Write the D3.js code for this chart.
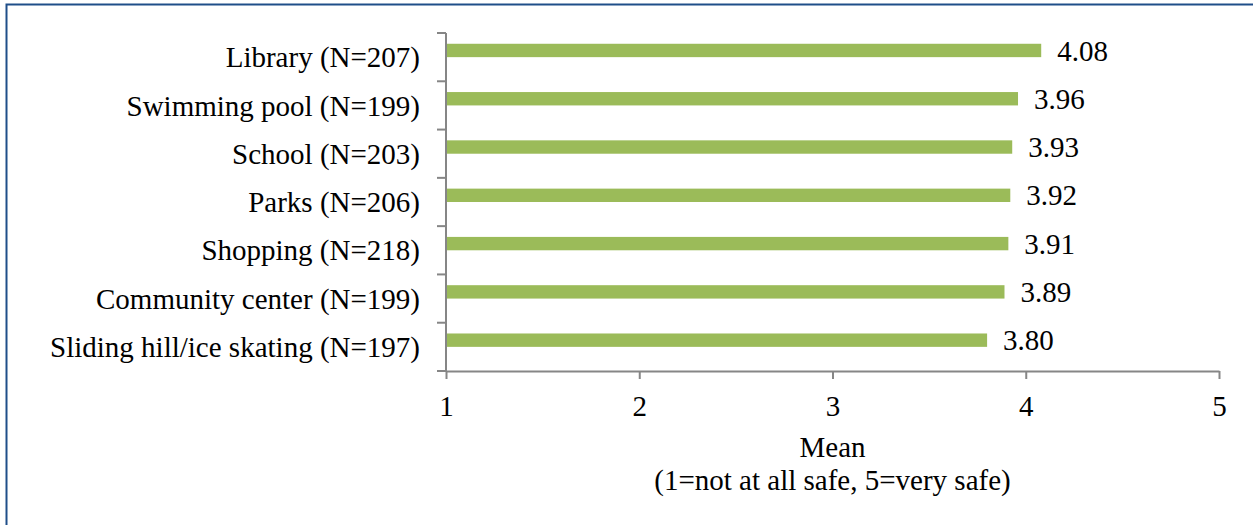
<!DOCTYPE html>
<html>
<head>
<meta charset="utf-8">
<script src="https://cdn.jsdelivr.net/npm/d3@7"></script>
<style>
  html, body { margin: 0; padding: 0; background: #fff; }
  svg { display: block; }
</style>
</head>
<body>
<svg id="chart" width="1253" height="525"></svg>
<script>
// Perceived safety at community locations (mean rating, 1–5)
const categories = [
  "Library (N=207)",
  "Swimming pool (N=199)",
  "School (N=203)",
  "Parks (N=206)",
  "Shopping (N=218)",
  "Community center (N=199)",
  "Sliding hill/ice skating (N=197)"
];
const meanValues = [4.08, 3.96, 3.93, 3.92, 3.91, 3.89, 3.80];
const xTicks = [1, 2, 3, 4, 5];
const axisTitle = ["Mean", "(1=not at all safe, 5=very safe)"];

const svg = d3.select("#chart");
const plot = { left: 446, right: 1219, top: 33, bottom: 371 };
const fontSize = 29;
const serif = "'Liberation Serif', 'Times New Roman', Times, serif";
const axisColor = "#868686";
const barColor = "#9BBB59";

// Frame around the figure
svg.append("path")
  .attr("d", "M6.5,525 V4.5 H1253")
  .attr("fill", "none")
  .attr("stroke", "#1F4E89")
  .attr("stroke-width", 2);

const x = d3.scaleLinear().domain([1, 5]).range([plot.left, plot.right]);
const y = d3.scaleBand().domain(categories).range([plot.top, plot.bottom]).padding(0);

// Bars sit in the upper half of each category band
const bw = y.bandwidth();
const barH = bw * 0.277;
const barOffset = bw / 2 - barH;

svg.append("g").selectAll("rect")
  .data(categories)
  .join("rect")
  .attr("x", x(1))
  .attr("y", d => y(d) + barOffset)
  .attr("width", (d, i) => x(meanValues[i]) - x(1))
  .attr("height", barH)
  .attr("fill", barColor);

// Value labels
svg.append("g").selectAll("text")
  .data(categories)
  .join("text")
  .attr("x", (d, i) => x(meanValues[i]) + 16)
  .attr("y", d => y(d) + barOffset + barH / 2)
  .attr("dy", "0.35em")
  .text((d, i) => meanValues[i].toFixed(2));

// X axis
const xAxis = svg.append("g")
  .attr("transform", `translate(0,${plot.bottom})`)
  .call(d3.axisBottom(x).tickValues(xTicks).tickFormat(d3.format("d")).tickSize(8).tickSizeOuter(0).tickPadding(16));
xAxis.select(".domain").attr("stroke", axisColor).attr("stroke-width", 2);
xAxis.selectAll(".tick line").attr("stroke", axisColor).attr("stroke-width", 2);
xAxis.selectAll(".tick text").attr("dy", "0.71em");

// Y axis with ticks between categories
const yAxisG = svg.append("g");
yAxisG.append("line")
  .attr("x1", plot.left).attr("x2", plot.left)
  .attr("y1", plot.top).attr("y2", plot.bottom)
  .attr("stroke", axisColor).attr("stroke-width", 2);
const boundaries = categories.map(d => y(d)).concat([plot.bottom]);
yAxisG.selectAll("line.tk")
  .data(boundaries)
  .join("line")
  .attr("class", "tk")
  .attr("x1", plot.left - 9).attr("x2", plot.left)
  .attr("y1", d => d).attr("y2", d => d)
  .attr("stroke", axisColor).attr("stroke-width", 2);
yAxisG.selectAll("text")
  .data(categories)
  .join("text")
  .attr("x", 420)
  .attr("y", d => y(d) + bw / 2)
  .attr("dy", "0.35em")
  .attr("text-anchor", "end")
  .text(d => d);

// Axis title
svg.append("g").selectAll("text")
  .data(axisTitle)
  .join("text")
  .attr("x", (plot.left + plot.right) / 2)
  .attr("y", (d, i) => 457 + i * 33)
  .attr("text-anchor", "middle")
  .text(d => d);

// Shared typography for every label
svg.selectAll("text")
  .style("font-family", serif)
  .style("font-size", fontSize + "px")
  .style("fill", "#000");
</script>
</body>
</html>
